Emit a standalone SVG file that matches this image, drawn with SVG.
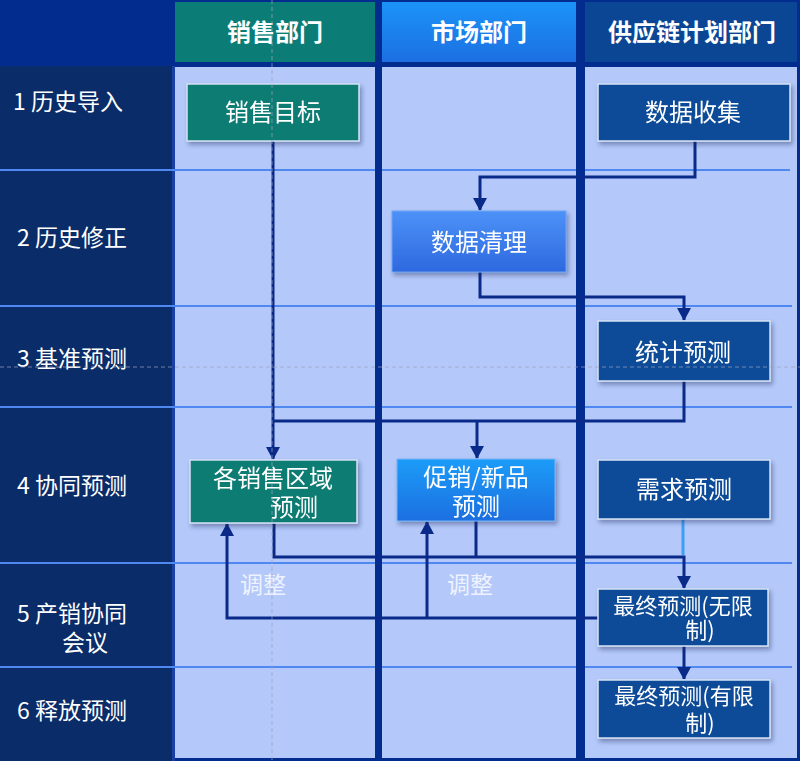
<svg xmlns="http://www.w3.org/2000/svg" width="800" height="761" viewBox="0 0 800 761">
<defs>
<linearGradient id="gMkt" x1="0" y1="0" x2="0" y2="1"><stop offset="0" stop-color="#1b93f7"/><stop offset="1" stop-color="#1c6fe2"/></linearGradient>
<linearGradient id="gClean" x1="0" y1="0" x2="0" y2="1"><stop offset="0" stop-color="#4d92f8"/><stop offset="1" stop-color="#2d68df"/></linearGradient>
<linearGradient id="gPromo" x1="0" y1="0" x2="0" y2="1"><stop offset="0" stop-color="#1e9cf8"/><stop offset="1" stop-color="#1b6fe0"/></linearGradient>
<filter id="sh" x="-10%" y="-10%" width="125%" height="135%"><feDropShadow dx="2" dy="3" stdDeviation="2" flood-color="#1a2a5a" flood-opacity="0.4"/></filter>
<marker id="ah" markerUnits="userSpaceOnUse" markerWidth="14" markerHeight="14" viewBox="0 0 14 14" refX="12" refY="7" orient="auto"><path d="M0,0 L13,7 L0,14 Z" fill="#0a2a8a"/></marker>
<style>
.lab{font-family:"Noto Sans CJK SC","Noto Sans",sans-serif;font-size:23px;fill:#ffffff}
.hdr{font-family:"Noto Sans CJK SC","Noto Sans",sans-serif;font-size:24px;font-weight:bold;fill:#ffffff;text-anchor:middle}
.nt{font-family:"Noto Sans CJK SC","Noto Sans",sans-serif;font-size:24px;fill:#ffffff;text-anchor:middle}
.ft{font-family:"Noto Sans CJK SC","Noto Sans",sans-serif;font-size:22px;fill:#ffffff;text-anchor:middle}
.adj{font-family:"Noto Sans CJK SC","Noto Sans",sans-serif;font-size:23px;fill:#eef3ff;text-anchor:middle}
.teal{fill:#0b7b73;stroke:#d5e2f5;stroke-width:1.5}
.dk{fill:#0c4c98;stroke:#d5e2f5;stroke-width:1.5}
.rowl{stroke:#4f88f0;stroke-width:2}
.cn{fill:none;stroke:#0a2a8a;stroke-width:3}
.guide{stroke:#9aa4bf;stroke-width:1;stroke-dasharray:4 3;fill:none;opacity:0.7}
</style>
</defs>
<rect x="0" y="0" width="800" height="761" fill="#022c8e"/>
<rect x="0" y="66" width="172" height="695" fill="#0a2c68"/>
<rect x="172" y="66" width="3" height="695" fill="#1a40a8"/>
<g id="headers">
<rect x="175" y="2" width="200" height="60" fill="#0b7d76"/>
<rect x="382" y="2" width="194" height="60" fill="url(#gMkt)"/>
<rect x="585" y="2" width="212" height="60" fill="#0b4694"/>
<text class="hdr" x="275" y="41">销售部门</text>
<text class="hdr" x="479" y="41">市场部门</text>
<text class="hdr" x="692" y="41">供应链计划部门</text>
</g>
<g id="lanes">
<rect x="175" y="67" width="200" height="691" fill="#b4c8f9"/>
<rect x="382" y="67" width="194" height="691" fill="#b4c8f9"/>
<rect x="585" y="67" width="212" height="691" fill="#b4c8f9"/>
</g>
<g id="rows">
<line class="rowl" x1="0" y1="170" x2="790" y2="170"/>
<line class="rowl" x1="0" y1="306" x2="792" y2="306"/>
<line class="rowl" x1="0" y1="407" x2="792" y2="407"/>
<line class="rowl" x1="0" y1="563" x2="792" y2="563"/>
<line class="rowl" x1="0" y1="667" x2="792" y2="667"/>
<rect x="375" y="62" width="7" height="699" fill="#022c8e"/>
<rect x="576" y="62" width="9" height="699" fill="#022c8e"/>
</g>
<g id="row-labels">
<text class="lab" x="13" y="110">1 历史导入</text>
<text class="lab" x="17" y="246">2 历史修正</text>
<text class="lab" x="17" y="367">3 基准预测</text>
<text class="lab" x="17" y="494">4 协同预测</text>
<text class="lab" x="17" y="622">5 产销协同</text>
<text class="lab" x="62" y="651">会议</text>
<text class="lab" x="17" y="719">6 释放预测</text>
</g>
<g id="connectors">
<path class="cn" d="M273,141 V459" marker-end="url(#ah)"/>
<path class="cn" d="M695,141 V177 H480 V210" marker-end="url(#ah)"/>
<path class="cn" d="M480,272 V297 H684 V320" marker-end="url(#ah)"/>
<path class="cn" d="M684,381 V421 H273"/>
<path class="cn" d="M477,421 V458" marker-end="url(#ah)"/>
<path class="cn" d="M274,523 V557 H684 V588" marker-end="url(#ah)"/>
<path class="cn" d="M476,521 V557"/>
<path d="M683,519 V555" fill="none" stroke="#3d9ef2" stroke-width="3"/>
<path class="cn" d="M598,618 H227 V524" marker-end="url(#ah)"/>
<path class="cn" d="M427,618 V522" marker-end="url(#ah)"/>
<path class="cn" d="M684,646 V679" marker-end="url(#ah)"/>
</g>
<g id="n-sales-target" filter="url(#sh)"><rect class="teal" x="187" y="84" width="172" height="57"/><text class="nt" x="273" y="121">销售目标</text></g>
<g id="n-data-collect" filter="url(#sh)"><rect class="dk" x="598" y="84" width="192" height="57"/><text class="nt" x="693" y="121">数据收集</text></g>
<g id="n-data-clean" filter="url(#sh)"><rect x="392" y="211" width="174" height="61" fill="url(#gClean)" stroke="#6fa3f5" stroke-width="1"/><text class="nt" x="479" y="251">数据清理</text></g>
<g id="n-stat" filter="url(#sh)"><rect class="dk" x="598" y="321" width="172" height="60"/><text class="nt" x="683" y="361">统计预测</text></g>
<g id="n-region" filter="url(#sh)"><rect class="teal" x="190" y="460" width="167" height="63"/><text class="nt" x="273" y="487">各销售区域</text><text class="nt" x="294" y="516">预测</text></g>
<g id="n-promo" filter="url(#sh)"><rect x="397" y="459" width="158" height="62" fill="url(#gPromo)" stroke="#7ab4f5" stroke-width="1"/><text class="nt" x="476" y="486">促销/新品</text><text class="nt" x="476" y="515">预测</text></g>
<g id="n-demand" filter="url(#sh)"><rect class="dk" x="598" y="460" width="172" height="59"/><text class="nt" x="684" y="498">需求预测</text></g>
<g id="n-final-unc" filter="url(#sh)"><rect class="dk" x="598" y="589" width="170" height="57"/><text class="ft" x="683" y="614">最终预测(无限</text><text class="ft" x="700" y="638">制)</text></g>
<g id="n-final-con" filter="url(#sh)"><rect class="dk" x="598" y="680" width="172" height="58"/><text class="ft" x="684" y="704">最终预测(有限</text><text class="ft" x="700" y="731">制)</text></g>
<g id="adj-labels">
<text class="adj" x="263" y="593">调整</text>
<text class="adj" x="470" y="593">调整</text>
</g>
<g id="guides">
<line class="guide" x1="272" y1="0" x2="272" y2="761"/>
<line class="guide" x1="0" y1="367" x2="800" y2="367"/>
</g>
</svg>
